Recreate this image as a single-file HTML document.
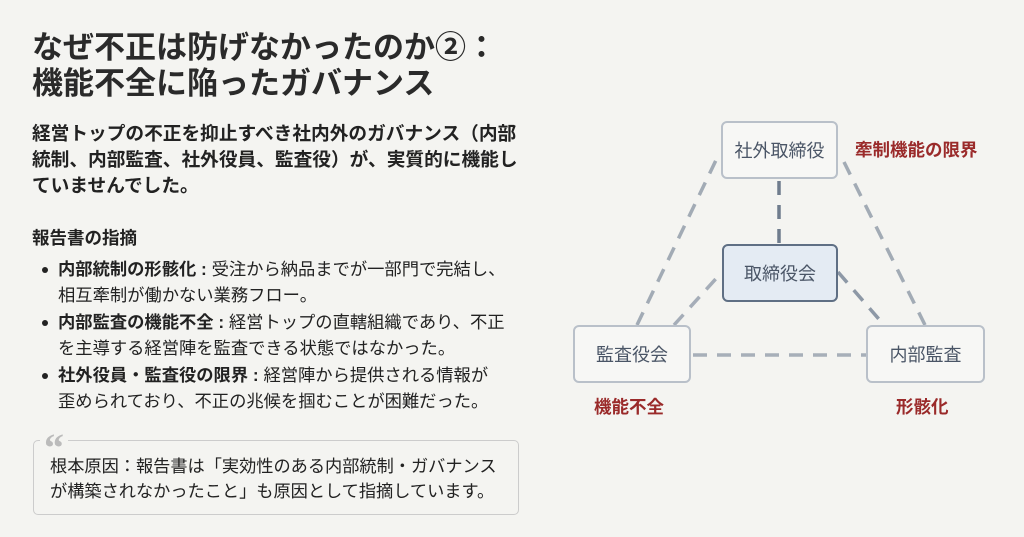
<!DOCTYPE html>
<html><head><meta charset="utf-8"><style>
body{margin:0;width:1024px;height:537px;background:#f4f4f1;position:relative;overflow:hidden;font-family:"Liberation Sans","Noto Sans CJK JP",sans-serif;color:#222}
.t{position:absolute;white-space:nowrap;line-height:1}
.h{font-size:31px;font-weight:bold;color:#2a2a2a;left:32px}
.p{font-size:18.7px;font-weight:bold;left:32px}
.b{font-size:17.3px;left:58px}
.dot{position:absolute;width:6px;height:6px;border-radius:50%;background:#222;left:42px}
.box{position:absolute;border:2px solid #b9c0c9;border-radius:6px;background:#f7f7f5;display:flex;align-items:center;justify-content:center;font-size:18px;color:#4a5566;box-sizing:border-box}
.r{color:#9a2a2a;font-weight:bold;font-size:17.5px}
</style></head><body>
<div class="t h" style="top:32px">なぜ不正は防げなかったのか②：</div>
<div class="t h" style="top:68px">機能不全に陥ったガバナンス</div>
<div class="t p" style="top:125px">経営トップの不正を抑止すべき社内外のガバナンス（内部</div>
<div class="t p" style="top:151px">統制、内部監査、社外役員、監査役）が、実質的に機能し</div>
<div class="t p" style="top:177px">ていませんでした。</div>
<div class="t" style="top:230px;left:32px;font-size:17.5px;font-weight:bold">報告書の指摘</div>
<div class="dot" style="top:267px"></div>
<div class="t b" style="top:261px"><b>内部統制の形骸化 :</b> 受注から納品までが一部門で完結し、</div>
<div class="t b" style="top:287px">相互牽制が働かない業務フロー。</div>
<div class="dot" style="top:320px"></div>
<div class="t b" style="top:314px"><b>内部監査の機能不全 :</b> 経営トップの直轄組織であり、不正</div>
<div class="t b" style="top:340px">を主導する経営陣を監査できる状態ではなかった。</div>
<div class="dot" style="top:373px"></div>
<div class="t b" style="top:367px"><b>社外役員・監査役の限界 :</b> 経営陣から提供される情報が</div>
<div class="t b" style="top:393px">歪められており、不正の兆候を掴むことが困難だった。</div>
<div style="position:absolute;left:33px;top:440px;width:486px;height:75px;border:1.5px solid #ccc;border-radius:5px;box-sizing:border-box"></div>
<div class="t" style="left:40px;top:428px;font-size:40px;color:#bbb;background:#f4f4f1;padding:0 4px;height:20px;font-weight:bold;font-family:'Liberation Serif',serif">“</div>
<div class="t" style="left:50px;top:458px;font-size:17.2px">根本原因：報告書は「実効性のある内部統制・ガバナンス</div>
<div class="t" style="left:50px;top:483px;font-size:17.2px">が構築されなかったこと」も原因として指摘しています。</div>

<svg style="position:absolute;left:0;top:0" width="1024" height="537">
<g fill="none" stroke-width="3.5" stroke-dasharray="14 10">
<line x1="637" y1="325" x2="718" y2="156" stroke="#8d98a6" opacity=".8"/>
<line x1="925" y1="325" x2="841" y2="156" stroke="#8d98a6" opacity=".8"/>
<line x1="779" y1="181" x2="779" y2="244" stroke="#6f7c8d"/>
<line x1="674" y1="325" x2="722" y2="272" stroke="#a5adb8"/>
<line x1="838" y1="272" x2="884" y2="325" stroke="#8d98a6"/>
<line x1="693" y1="355" x2="866" y2="355" stroke="#8d98a6" opacity=".75"/>
</g></svg>
<div class="box" style="left:721px;top:121px;width:117px;height:58px">社外取締役</div>
<div class="box" style="left:722px;top:244px;width:116px;height:58px;background:#e4ebf3;border-color:#5f6f84">取締役会</div>
<div class="box" style="left:573px;top:325px;width:118px;height:58px">監査役会</div>
<div class="box" style="left:866px;top:325px;width:119px;height:58px">内部監査</div>
<div class="t r" style="left:855px;top:142px">牽制機能の限界</div>
<div class="t r" style="left:594px;top:399px">機能不全</div>
<div class="t r" style="left:896px;top:399px">形骸化</div>
</body></html>
